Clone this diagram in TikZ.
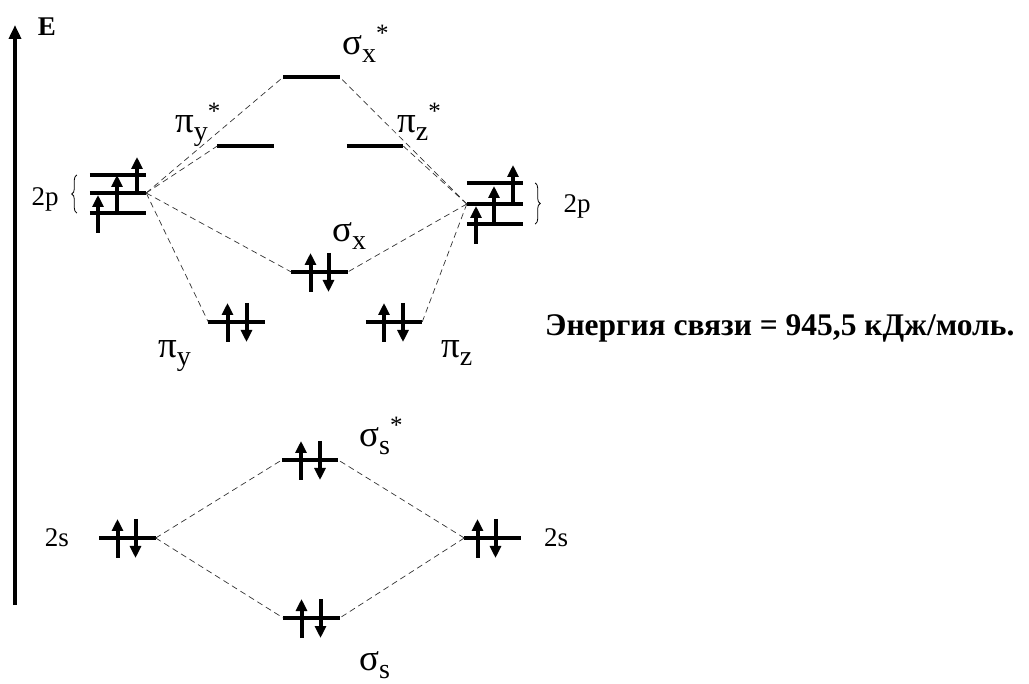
\documentclass[tikz,border=0pt]{standalone}
\usepackage{fontspec}
\setmainfont{Liberation Serif}
\usetikzlibrary{arrows.meta,decorations.pathreplacing}

\tikzset{
    lvl/.style={minimum width=56pt,minimum height=0pt,inner sep=0pt},
    bar/.style={line width=3.5pt},
    spin/.style={line width=4pt,-{Triangle[width=11pt,length=12pt]}},
    corr/.style={dash pattern=on 6pt off 4pt,line width=0.7pt,black!80},
    lab/.style={anchor=base west,inner sep=0pt,font=\fontsize{37}{37}\selectfont},
    atom/.style={inner sep=0pt,font=\fontsize{27}{27}\selectfont}
}
% orbital label: letter, subscript, superscript
\newcommand{\molab}[3]{#1\raisebox{-8pt}{\fontsize{28}{28}\selectfont #2}\raisebox{13pt}{\fontsize{25}{25}\selectfont #3}}

\begin{document}
\begin{tikzpicture}[x=1pt,y=-1pt]
    \useasboundingbox (0,0) rectangle (1029,684);
    % energy axis
    \draw[line width=4pt,-{Triangle[width=12pt,length=14pt]}] (15,605) -- (15,25);
    \node[atom,font=\fontsize{27}{27}\selectfont\bfseries] (E) at (47,27) {E};

    % atomic levels
    \node[lvl] (pL1) at (118,175) {};
    \node[lvl] (pL2) at (118,193) {};
    \node[lvl] (pL3) at (118,213) {};
    \node[lvl] (pR1) at (495,183) {};
    \node[lvl] (pR2) at (495,204) {};
    \node[lvl] (pR3) at (495,224) {};
    \node[lvl] (sL) at (127.5,538) {};
    \node[lvl] (sR) at (492.5,538) {};
    % molecular levels
    \node[lvl] (sxs) at (311.5,77) {};
    \node[lvl] (pys) at (245.5,146) {};
    \node[lvl] (pzs) at (375,146) {};
    \node[lvl] (sx) at (319.5,272) {};
    \node[lvl] (py) at (236.5,322) {};
    \node[lvl] (pz) at (394,322) {};
    \node[lvl] (sss) at (310,460) {};
    \node[lvl] (ss) at (311.5,618) {};
    \foreach \o in {pL1,pL2,pL3,pR1,pR2,pR3,sL,sR,sxs,pys,pzs,sx,py,pz,sss,ss}
        \draw[bar] (\o.west) -- (\o.east);

    % correlation lines
    \foreach \o in {sxs,pys,sx,py}
        \draw[corr] (pL2.east) -- (\o.west);
    \foreach \o in {sxs,pzs,sx,pz}
        \draw[corr] (pR2.west) -- (\o.east);
    \foreach \o in {sss,ss} {
        \draw[corr] (sL.east) -- (\o.west);
        \draw[corr] (sR.west) -- (\o.east);
    }

    % electrons
    \foreach \o/\a in {pL3/-20,pL2/-1,pL1/19,pR3/-19,pR2/-1,pR1/18}
        \draw[spin] (\o) ++(\a,20) -- ++(0,-38);
    \foreach \o/\a/\b in {sx/-9/9,py/-9/10,pz/-10/9,sss/-9/10,ss/-10/9,sL/-10/8,sR/-15/3} {
        \draw[spin] (\o) ++(\a,20) -- ++(0,-39);
        \draw[spin] (\o) ++(\b,-19) -- ++(0,39);
    }

    % braces and atom labels
    \draw[decorate,decoration={brace,amplitude=5pt},line width=0.8pt]
        ([xshift=-13pt]pL3.west) -- ([xshift=-13pt]pL1.west);
    \draw[decorate,decoration={brace,amplitude=5pt},line width=0.8pt]
        ([xshift=12pt]pR1.east) -- ([xshift=12pt]pR3.east);
    \node[atom] (pLt) at (45,199) {2p};
    \node[atom] (pRt) at (577,206) {2p};
    \node[atom] (sLt) at (57,538) {2s};
    \node[atom] (sRt) at (556,538) {2s};

    % orbital labels
    \node[lab] (lsxs) at (342,55) {\molab{σ}{x}{*}};
    \node[lab] (lpys) at (175,133) {\molab{π}{y}{*}};
    \node[lab] (lpzs) at (397,133) {\molab{π}{z}{*}};
    \node[lab] (lsx) at (332,242) {\molab{σ}{x}{}};
    \node[lab] (lpy) at (158,358) {\molab{π}{y}{}};
    \node[lab] (lpz) at (441,358) {\molab{π}{z}{}};
    \node[lab] (lsss) at (359,447) {\molab{σ}{s}{*}};
    \node[lab] (lss) at (359,670) {\molab{σ}{s}{}};

    \node[anchor=base west,inner sep=0pt,font=\fontsize{31.5}{31.5}\selectfont\bfseries]
        (bond) at (545,336) {Энергия связи = 945,5 кДж/моль.};
\end{tikzpicture}
\end{document}
